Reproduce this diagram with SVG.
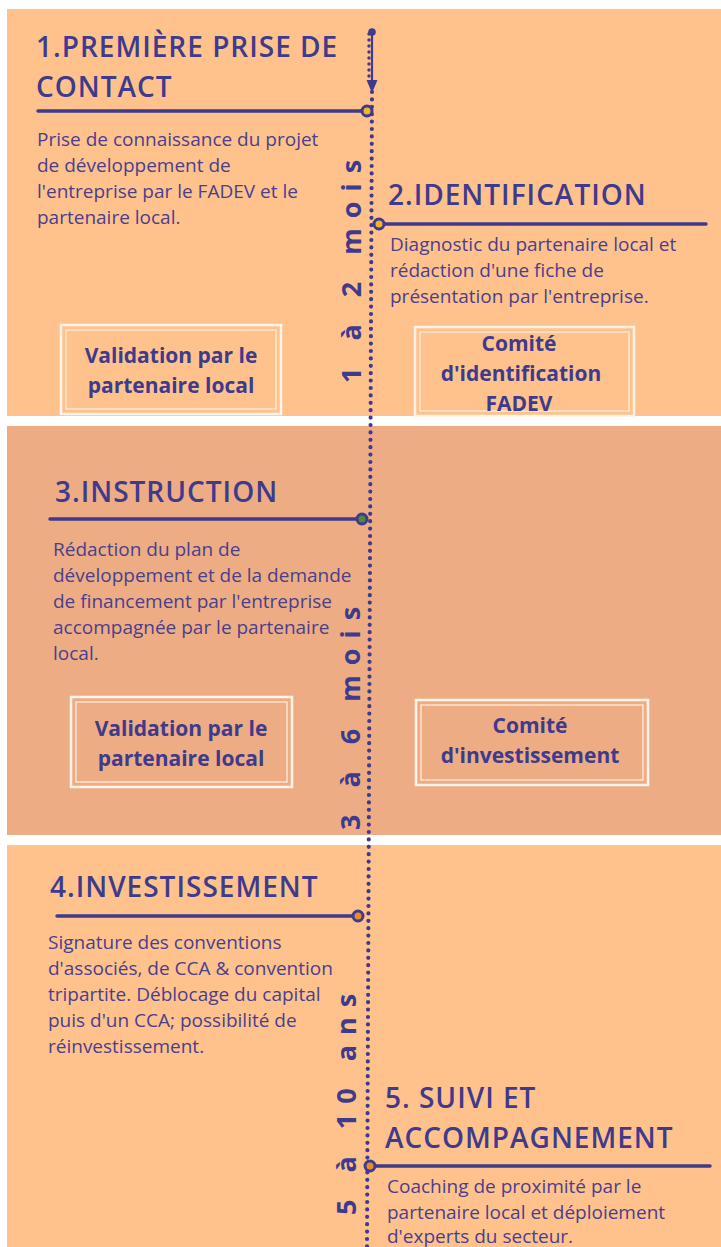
<svg xmlns="http://www.w3.org/2000/svg" width="721" height="1247" viewBox="0 0 721 1247">
  <style>
    .title { font-family: "Open Sans", "Noto Sans", sans-serif; font-size: 28px; font-weight: 600; letter-spacing: 1px; fill: #3e3a8c; }
    .body { font-family: "Open Sans", "Noto Sans", sans-serif; font-size: 19px; fill: #4a3f8c; }
    .box-text { font-family: "Open Sans", "Noto Sans", sans-serif; font-size: 21px; font-weight: bold; fill: #3e3a8c; text-anchor: middle; }
    .duration { font-family: "Open Sans", "Noto Sans", sans-serif; font-size: 27px; font-weight: bold; fill: #3e3a8c; letter-spacing: 10px; }
    .rule { stroke: #3e3a8c; stroke-width: 3.5; stroke-linecap: round; fill: none; }
    .knot { stroke: #3e3a8c; stroke-width: 3; }
    .frame-out { fill: none; stroke: #fff4ea; stroke-width: 2.5; }
    .frame-in { fill: none; stroke: #fff0e0; stroke-width: 1.2; }
  </style>

  <!-- page and phase bands -->
  <rect x="0" y="0" width="721" height="1247" fill="#ffffff"/>
  <rect x="7" y="9" width="714" height="407" fill="#ffc28c"/>
  <rect x="7" y="426" width="714" height="409" fill="#edac84"/>
  <rect x="7" y="845" width="714" height="402" fill="#ffc28c"/>

  <!-- timeline connectors -->
  <g id="connectors">
    <line x1="372" y1="92" x2="367" y2="1247" stroke="#3e3a8c" stroke-width="4.2" stroke-linecap="round" stroke-dasharray="0 7.4"/>
    <line x1="369" y1="34" x2="369" y2="82" stroke="#3e3a8c" stroke-width="3.4" stroke-linecap="round" stroke-dasharray="0 6"/>
    <line x1="372" y1="32" x2="372" y2="82" stroke="#3e3a8c" stroke-width="2.2"/>
    <circle cx="372" cy="32" r="3.8" fill="#3e3a8c"/>
    <polygon points="366.5,80 377.5,80 372,93" fill="#3e3a8c"/>
  </g>

  <!-- durations along the timeline, read bottom to top -->
  <text class="duration" transform="translate(361 383) rotate(-90)">1 à 2 mois</text>
  <text class="duration" transform="translate(360 830) rotate(-90)">3 à 6 mois</text>
  <text class="duration" transform="translate(356 1215) rotate(-90)">5 à 10 ans</text>

  <g id="step1">
    <text class="title" x="36" y="57">1.PREMIÈRE PRISE DE</text>
    <text class="title" x="36" y="97">CONTACT</text>
    <line class="rule" x1="38" y1="111" x2="361" y2="111"/>
    <circle class="knot" cx="367" cy="111" r="5" fill="#f3b52a"/>
    <text class="body" x="37" y="146">Prise de connaissance du projet</text>
    <text class="body" x="37" y="172">de développement de</text>
    <text class="body" x="37" y="198">l'entreprise par le FADEV et le</text>
    <text class="body" x="37" y="224">partenaire local.</text>
  </g>

  <g id="step2">
    <text class="title" x="388" y="205">2.IDENTIFICATION</text>
    <line class="rule" x1="385" y1="224" x2="706" y2="224"/>
    <circle class="knot" cx="379" cy="224" r="5" fill="#f3b52a"/>
    <text class="body" x="390" y="251">Diagnostic du partenaire local et</text>
    <text class="body" x="390" y="277">rédaction d'une fiche de</text>
    <text class="body" x="390" y="303">présentation par l'entreprise.</text>
  </g>

  <g id="box-validation-1">
    <rect class="frame-out" x="61" y="325" width="220" height="89"/>
    <rect class="frame-in" x="66" y="330" width="210" height="79"/>
    <text class="box-text" x="171" y="363">Validation par le</text>
    <text class="box-text" x="171" y="393">partenaire local</text>
  </g>

  <g id="box-comite-identification">
    <rect class="frame-out" x="415" y="327" width="219" height="89"/>
    <rect class="frame-in" x="420" y="332" width="209" height="79"/>
    <text class="box-text" x="519" y="351">Comité</text>
    <text class="box-text" x="521" y="381">d'identification</text>
    <text class="box-text" x="519" y="411">FADEV</text>
  </g>

  <g id="step3">
    <text class="title" x="55" y="502">3.INSTRUCTION</text>
    <line class="rule" x1="50" y1="519" x2="356" y2="519"/>
    <circle class="knot" cx="362" cy="519" r="5" fill="#4e8a3c"/>
    <text class="body" x="53" y="556">Rédaction du plan de</text>
    <text class="body" x="53" y="582">développement et de la demande</text>
    <text class="body" x="53" y="608">de financement par l'entreprise</text>
    <text class="body" x="53" y="634">accompagnée par le partenaire</text>
    <text class="body" x="53" y="660">local.</text>
  </g>

  <g id="box-validation-2">
    <rect class="frame-out" x="71" y="697" width="221" height="90"/>
    <rect class="frame-in" x="76" y="702" width="211" height="80"/>
    <text class="box-text" x="181" y="736">Validation par le</text>
    <text class="box-text" x="181" y="766">partenaire local</text>
  </g>

  <g id="box-comite-investissement">
    <rect class="frame-out" x="416" y="700" width="232" height="85"/>
    <rect class="frame-in" x="421" y="705" width="222" height="75"/>
    <text class="box-text" x="530" y="733">Comité</text>
    <text class="box-text" x="530" y="763">d'investissement</text>
  </g>

  <g id="step4">
    <text class="title" x="50" y="897">4.INVESTISSEMENT</text>
    <line class="rule" x1="57" y1="916" x2="352" y2="916"/>
    <circle class="knot" cx="358" cy="916" r="5" fill="#e98a2b"/>
    <text class="body" x="48" y="949">Signature des conventions</text>
    <text class="body" x="48" y="975">d'associés, de CCA &amp; convention</text>
    <text class="body" x="48" y="1001">tripartite. Déblocage du capital</text>
    <text class="body" x="48" y="1027">puis d'un CCA; possibilité de</text>
    <text class="body" x="48" y="1053">réinvestissement.</text>
  </g>

  <g id="step5">
    <text class="title" x="385" y="1108">5. SUIVI ET</text>
    <text class="title" x="385" y="1148">ACCOMPAGNEMENT</text>
    <line class="rule" x1="376" y1="1166" x2="710" y2="1166"/>
    <circle class="knot" cx="370" cy="1166" r="5" fill="#e98a2b"/>
    <text class="body" x="387" y="1193">Coaching de proximité par le</text>
    <text class="body" x="387" y="1219">partenaire local et déploiement</text>
    <text class="body" x="387" y="1243">d'experts du secteur.</text>
  </g>
</svg>
